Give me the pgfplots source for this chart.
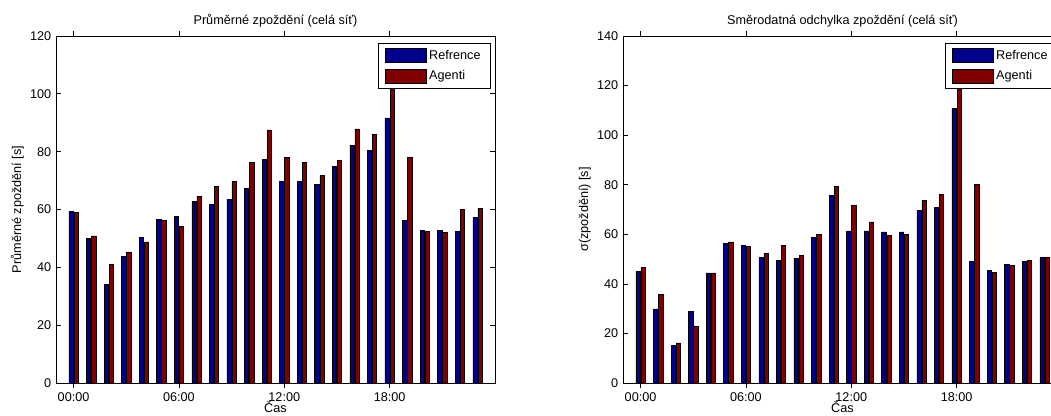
\documentclass[border=0pt]{standalone}
\usepackage{fontspec}
\setmainfont{Liberation Sans}
\usepackage{pgfplots}
\usepackage{pgfplotstable}
\pgfplotsset{compat=1.18}
\definecolor{refblue}{RGB}{0,0,140}
\definecolor{agred}{RGB}{128,0,0}
\pgfplotstableread{
h ref ag
0 59.3 59.1
1 49.9 50.9
2 34.0 41.0
3 43.9 45.3
4 50.3 48.8
5 56.5 56.2
6 57.6 54.1
7 62.8 64.5
8 61.8 68.1
9 63.6 69.8
10 67.4 76.2
11 77.2 87.5
12 69.8 78.0
13 69.6 76.2
14 68.6 71.8
15 74.9 77.0
16 82.3 87.9
17 80.5 86.1
18 91.7 108
19 56.3 78.0
20 52.7 52.5
21 52.7 52.1
22 52.4 60.1
23 57.3 60.5
}\meantab
\pgfplotstableread{
h ref ag
0 45.0 46.6
1 29.9 35.9
2 15.1 16.2
3 28.9 22.9
4 44.4 44.4
5 56.4 56.9
6 55.5 55.0
7 50.6 52.2
8 49.5 55.5
9 50.2 51.4
10 58.8 60.0
11 75.6 79.3
12 61.4 71.6
13 61.4 65.0
14 61.0 59.4
15 61.0 60.0
16 69.6 73.6
17 70.8 76.0
18 110.9 125
19 49.1 80.1
20 45.5 44.5
21 47.8 47.4
22 49.1 49.5
23 50.6 50.6
}\stdtab
\pgfplotsset{
  myaxis/.style={
    scale only axis,
    width=329.25pt, height=260.25pt,
    anchor=south west,
    font=\fontsize{9.5}{11}\selectfont,
    /pgf/number format/assume math mode=true,
    xmin=-1, xmax=24, ymin=0,
    xtick={0,6,12,18},
    xticklabels={00:00,06:00,12:00,18:00},
    tick align=inside, tick pos=both,
    major tick length=3.75pt,
    axis line style={line width=0.6pt},
    every tick/.style={black, line width=0.5pt},
    ybar, bar width=3.2pt,
    xlabel={Čas},
    xlabel style={yshift=7pt},
    ylabel style={yshift=-2pt},
    legend style={at={(axis description cs:1,1)}, anchor=north east,
      xshift=-3.5pt, yshift=-5.25pt, draw=black, line width=0.6pt,
      font=\fontsize{9.5}{11}\selectfont, inner xsep=5pt, inner ysep=3pt,
      row sep=3pt,
      cells={anchor=west}},
    legend image code/.code={\draw[#1, line width=0.5pt] (0pt,-5.25pt) rectangle (30.75pt,5.25pt);},
    title style={yshift=-3pt},
  },
}
\begin{document}
\begin{tikzpicture}
\begin{axis}[myaxis, at={(42pt,24.75pt)}, ymax=120,
  title={Průměrné zpoždění (celá síť)},
  ylabel={Průměrné zpoždění [s]}]
\addplot[fill=refblue, draw=black, line width=0.4pt, bar shift=-1.9pt] table[x=h,y=ref]{\meantab};
\addplot[fill=agred, draw=black, line width=0.4pt, bar shift=1.9pt] table[x=h,y=ag]{\meantab};
\legend{Refrence,Agenti}
\end{axis}
\begin{axis}[myaxis, at={(467.25pt,24.75pt)}, ymax=140,
  title={Směrodatná odchylka zpoždění (celá síť)},
  ylabel={σ(zpoždění) [s]}]
\addplot[fill=refblue, draw=black, line width=0.4pt, bar shift=-1.9pt] table[x=h,y=ref]{\stdtab};
\addplot[fill=agred, draw=black, line width=0.4pt, bar shift=1.9pt] table[x=h,y=ag]{\stdtab};
\legend{Refrence,Agenti}
\end{axis}
\pgfresetboundingbox
\path[use as bounding box] (0,0) rectangle (788.25pt,312pt);
\end{tikzpicture}
\end{document}
